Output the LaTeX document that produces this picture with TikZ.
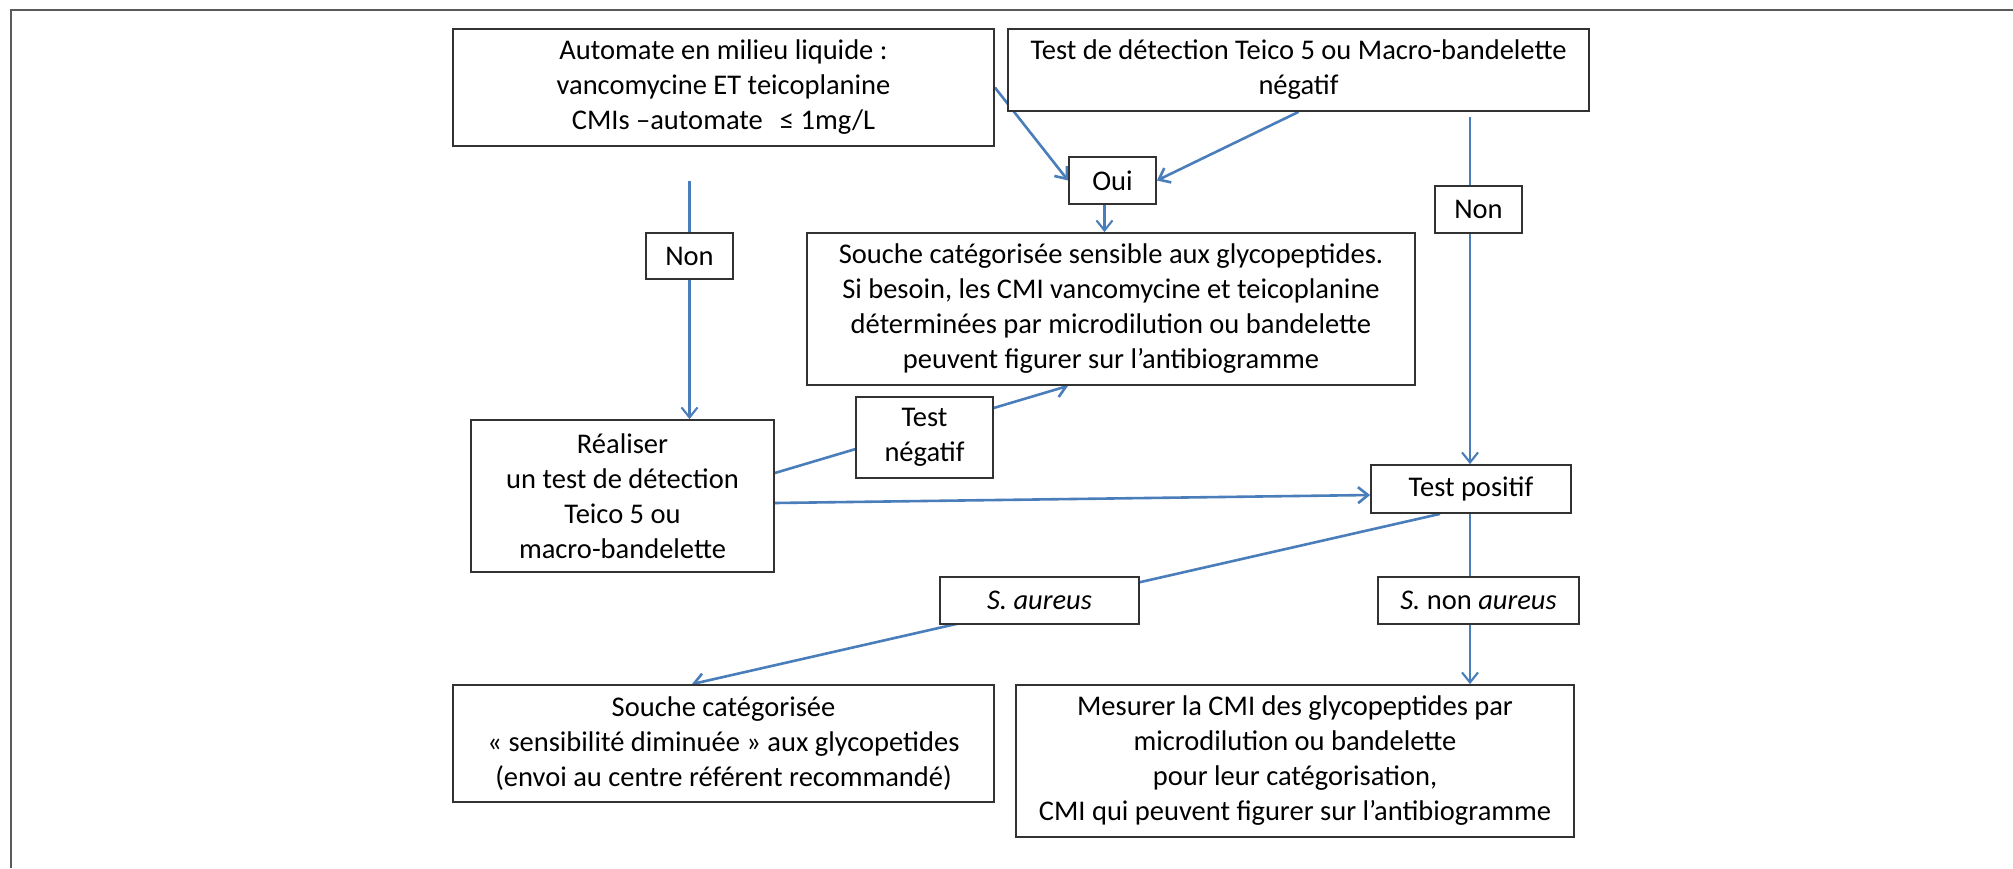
\documentclass[tikz,border=0pt]{standalone}
\usepackage{fontspec}
\setmainfont{Carlito}
\usetikzlibrary{arrows.meta,backgrounds}
\definecolor{blueline}{RGB}{74,126,187}
\definecolor{framecol}{RGB}{90,90,90}
\definecolor{boxcol}{RGB}{50,50,50}
\tikzset{
  box/.style={draw=boxcol, line width=1.8pt, fill=white, inner sep=0pt, align=center,
    font=\fontsize{28.5}{35}\selectfont},
  conn/.style={draw=blueline, line width=2.6pt},
  connthin/.style={draw=blueline, line width=2.1pt},
  tip/.style={-{Straight Barb[length=10pt,width=16pt]}},
}
\begin{document}
\begin{tikzpicture}[x=1pt,y=-1pt]
\useasboundingbox (0,0) rectangle (2013,868);
% nodes
\node[box, minimum width=541pt, minimum height=117pt] (A) at (723.5,87.5)
  {Automate en milieu liquide :\\ vancomycine ET teicoplanine\\ CMIs –automate\hspace{0.6em}≤ 1mg/L};
\node[box, minimum width=581pt, minimum height=82pt] (B) at (1298.5,70)
  {Test de détection Teico 5 ou Macro-bandelette\\ négatif};
\node[box, minimum width=87pt, minimum height=47pt] (oui) at (1112.5,180.5) {Oui};
\node[box, minimum width=87pt, minimum height=46pt] (nonL) at (689.5,256) {Non};
\node[box, minimum width=87pt, minimum height=47pt] (nonR) at (1478.5,209.5) {Non};
\node[box, minimum width=608pt, minimum height=152pt] (sens) at (1111,309)
  {Souche catégorisée sensible aux glycopeptides.\\ Si besoin, les CMI vancomycine et teicoplanine\\ déterminées par microdilution ou bandelette\\ peuvent figurer sur l’antibiogramme};
\node[box, minimum width=137pt, minimum height=81pt] (tneg) at (924.5,437.5) {Test\\ négatif};
\node[box, minimum width=303pt, minimum height=152pt] (real) at (622.5,496)
  {Réaliser\\ un test de détection\\ Teico 5 ou\\ macro-bandelette};
\node[box, minimum width=200pt, minimum height=48pt] (tpos) at (1471,489) {Test positif};
\node[box, minimum width=199pt, minimum height=47pt] (saur) at (1039.5,600.5) {\textit{S. aureus}};
\node[box, minimum width=201pt, minimum height=47pt] (snon) at (1478.5,600.5) {\textit{S.} non \textit{aureus}};
\node[box, minimum width=541pt, minimum height=117pt] (dim) at (723.5,743.5)
  {Souche catégorisée\\ « sensibilité diminuée » aux glycopetides\\ (envoi au centre référent recommandé)};
\node[box, minimum width=558pt, minimum height=152pt] (mes) at (1295,761)
  {Mesurer la CMI des glycopeptides par\\ microdilution ou bandelette\\ pour leur catégorisation,\\ CMI qui peuvent figurer sur l’antibiogramme};
\coordinate (ltop) at (689.5,181);
\coordinate (rtop) at (1470,117);
\begin{pgfonlayer}{background}
  \fill[white] (0,0) rectangle (2013,868);
  \draw[framecol, line width=2.4pt] (11,868) -- (11,10) -- (2013,10);
  % left branch
  \draw[connthin, tip] (ltop) -- (ltop |- real.north);
  % right branch
  \draw[connthin, tip] (rtop) -- (rtop |- tpos.north);
  % to Oui
  \draw[conn, tip] (A.east) -- (oui.west);
  \draw[conn, tip] (B.south) -- (oui.east);
  \draw[connthin, tip] ([xshift=-8pt]oui.south) -- ([xshift=-8pt]oui.south |- sens.north);
  % test negatif
  \draw[conn, tip] ([yshift=23pt]real.east) -- ([xshift=-43pt]sens.south);
  % test positif
  \draw[conn, tip] ([yshift=-7pt]real.east) -- ([yshift=-6pt]tpos.west);
  % S. aureus
  \draw[conn, tip] ([xshift=-31pt]tpos.south) -- ([xshift=-31.5pt]dim.north);
  % S. non aureus
  \draw[connthin, tip] ([xshift=-1pt]tpos.south) -- ([xshift=-1pt]tpos.south |- mes.north);
\end{pgfonlayer}
\end{tikzpicture}
\end{document}
